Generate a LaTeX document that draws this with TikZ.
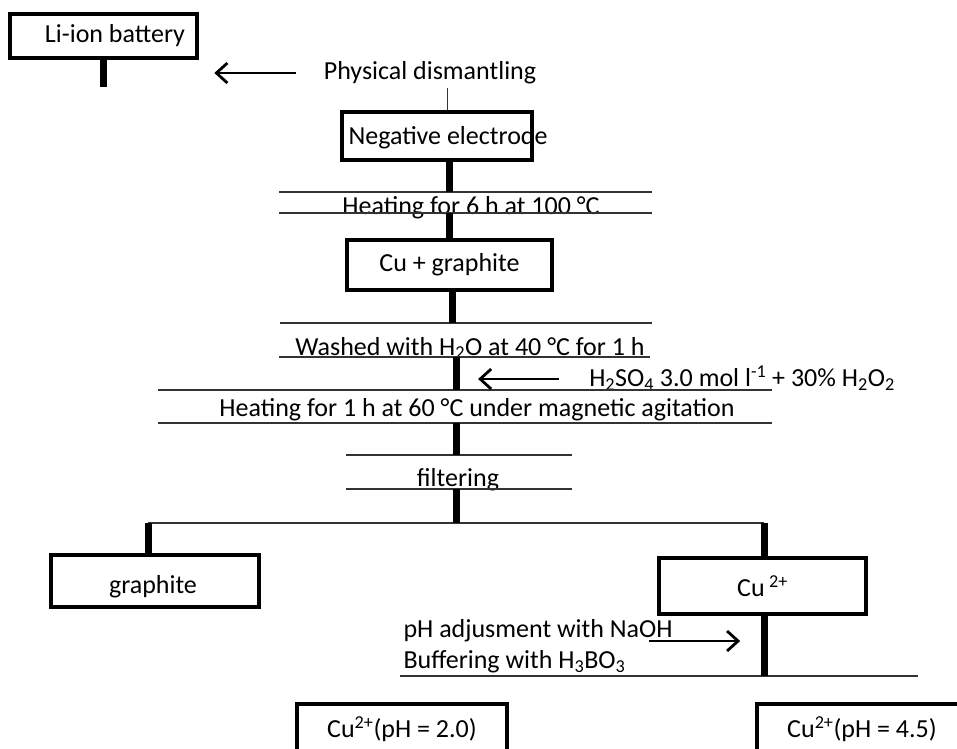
\documentclass[tikz,border=0pt]{standalone}
\usepackage{fontspec}
\setmainfont{Carlito}
\usetikzlibrary{arrows.meta}

\begin{document}
\begin{tikzpicture}[%
    x=1pt,
    y=-1pt,
    >={Straight Barb[length=11pt,width=20pt,line width=2.8pt]},
    font=\fontsize{26}{31}\selectfont,
    stepbox/.style={%
      draw,
      line width=3.6pt,
      inner sep=0pt
    },
    stalk/.style={%
      line width=7pt
    },
    hline/.style={%
      line width=1.4pt,
      draw=black!80
    },
    feed/.style={%
      ->,
      line width=1.4pt
    }
  ]
    \clip (0,0) rectangle (957,748);

    \node[stepbox,minimum width=187pt,minimum height=44pt,label={[xshift=11.5pt]center:Li-ion battery}] (1) at (103.5,36) {};
    \node (2) at (430,73) {Physical dismantling};
    \node[stepbox,minimum width=190pt,minimum height=48pt,label={[xshift=11pt,yshift=-2pt]center:Negative electrode}] (3) at (437,136) {};
    \node (4) at (471,208) {Heating for 6 h at 100 °C};
    \node[stepbox,minimum width=205pt,minimum height=50pt] (5) at (449.5,265) {Cu + graphite};
    \node (6) at (470,348) {Washed with H\textsubscript{2}O at 40 °C for 1 h};
    \node[inner sep=1pt] (7) at (742,378) {H\textsubscript{2}SO\textsubscript{4} 3.0 mol l\textsuperscript{-1} + 30\% H\textsubscript{2}O\textsubscript{2}};
    \node[inner sep=1pt] (8) at (477,410) {Heating for 1 h at 60 °C under magnetic agitation};
    \node (9) at (458,480) {filtering};
    \node[stepbox,minimum width=208pt,minimum height=52pt,label={[xshift=-2pt,yshift=-6pt]center:graphite}] (10) at (155,581) {};
    \node[stepbox,minimum width=207pt,minimum height=56pt] (11) at (762.5,586) {Cu\,\textsuperscript{2+}};
    \node[align=left,anchor=west] (12) at (400,646) {pH adjusment with NaOH\\Buffering with H\textsubscript{3}BO\textsubscript{3}};
    \node[stepbox,minimum width=210pt,minimum height=50pt] (13) at (402,729) {Cu\textsuperscript{2+}(pH = 2.0)};
    \node[stepbox,minimum width=210pt,minimum height=50pt] (14) at (862,729) {Cu\textsuperscript{2+}(pH = 4.5)};

    % horizontal rules
    \coordinate (l1w) at (279,192);  \coordinate (l1e) at (652,192);
    \coordinate (l2w) at (279,213);  \coordinate (l2e) at (652,213);
    \coordinate (l3w) at (280,323);  \coordinate (l3e) at (652,323);
    \coordinate (l4w) at (279,357);  \coordinate (l4e) at (650,357);
    \coordinate (l5w) at (158,390);  \coordinate (l5e) at (772,390);
    \coordinate (l6w) at (158,423);  \coordinate (l6e) at (772,423);
    \coordinate (l7w) at (346,455);  \coordinate (l7e) at (572,455);
    \coordinate (l8w) at (346,489);  \coordinate (l8e) at (572,489);
    \coordinate (l9w) at (148,523);
    \coordinate (l10w) at (400,676); \coordinate (l10e) at (918,676);
    \coordinate (axis) at (456,0);
    \coordinate (3n) at ([xshift=10pt]3.north);
    \coordinate (3s) at ([xshift=12pt]3.south);
    \coordinate (10n) at ([xshift=-7pt]10.north);
    \coordinate (11n) at ([xshift=1.5pt]11.north);
    \coordinate (11s) at ([xshift=1.5pt]11.south);

    \draw[hline] (l1w) -- (l1e);
    \draw[hline] (l2w) -- (l2e);
    \draw[hline] (l3w) -- (l3e);
    \draw[hline] (l4w) -- (l4e);
    \draw[hline] (l5w) -- (l5e);
    \draw[hline] (l6w) -- (l6e);
    \draw[hline] (l7w) -- (l7e);
    \draw[hline] (l8w) -- (l8e);
    \draw[hline] (10n |- l9w) -- (11n |- l9w);
    \draw[hline] (l10w) -- (l10e);

    % stalks
    \draw[stalk] (1.south) -- ([yshift=-27pt]1.south);
    \draw[hline,line width=1pt] (3n |- 2.south) -- (3n);
    \draw[stalk] (3s) -- (3s |- l1w);
    \draw[stalk] (5.north |- l2w) -- (5.north);
    \draw[stalk] ([xshift=3pt]5.south) -- ([xshift=3pt]5.south |- l3w);
    \draw[stalk] (axis |- l4w) -- (axis |- l5w);
    \draw[stalk] (axis |- l6w) -- (axis |- l7w);
    \draw[stalk] (axis |- l8w) -- (axis |- l9w);
    \draw[stalk] (10n |- l9w) -- (10n);
    \draw[stalk] (11n |- l9w) -- (11n);
    \draw[stalk] (11s) -- (11s |- l10w);

    % side feeds
    \draw[feed] ([xshift=-24pt]2.west) -- ([xshift=-106pt]2.west);
    \draw[feed] ([xshift=-29pt,yshift=-1pt]7.west) -- ([xshift=-110pt,yshift=-1pt]7.west);
    \draw[feed] ([xshift=-27pt,yshift=5pt]12.east) -- ([xshift=64pt,yshift=5pt]12.east);
\end{tikzpicture}
\end{document}
